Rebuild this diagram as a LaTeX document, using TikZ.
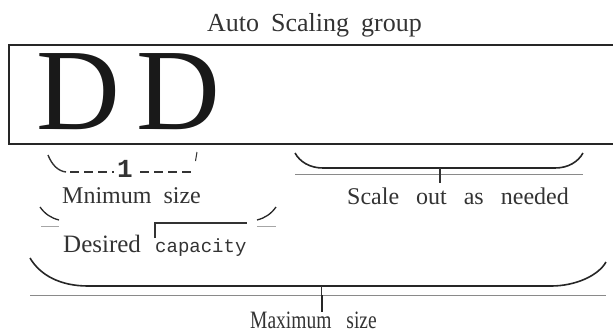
\documentclass[tikz,border=0pt]{standalone}
\usepackage{fontspec}
\newfontfamily\labelfont{Liberation Serif}
\newfontfamily\narrowfont[FakeStretch = 0.78]{Liberation Serif}
\newfontfamily\codefont{Liberation Mono}
\definecolor{ink}{HTML}{333333}
\definecolor{rulegray}{HTML}{8A8A8A}

\begin{document}
\begin{tikzpicture}[x = 1pt, y = -1pt,
        lbltext/.style = {inner sep = 0, anchor = base west, text = ink},
        brace/.style = {line width = 1.6pt, draw = black!85},
        thinrule/.style = {line width = 0.9pt, draw = rulegray},
        boxline/.style = {line width = 1.3pt, draw = black!85}]
        \useasboundingbox (0, 0) rectangle (613, 333);

        \node (title) [lbltext] at (207, 31.5) {\labelfont\fontsize{26}{30}\selectfont\spaceskip = 12pt Auto Scaling group};

        \draw [boxline] (613, 45) -- (9, 45) -- (9, 144) -- (613, 144);
        \node (dleft) [inner sep = 0, text = black!90] at (78, 91.5) {\labelfont\fontsize{116}{116}\selectfont D};
        \node (dright) [inner sep = 0, text = black!90] at (178, 91.5) {\labelfont\fontsize{116}{116}\selectfont D};

        \draw [line width = 1.4pt, draw = ink] (48, 155) .. controls (52, 165) and (58, 171) .. (66, 172);
        \draw [line width = 1.4pt, draw = ink, dash pattern = on 9pt off 5pt] (70, 172) -- (114, 172);
        \draw [line width = 1.4pt, draw = ink, dash pattern = on 9pt off 5pt] (140, 172) -- (192, 172);
        \draw [line width = 1pt, draw = ink] (197, 152) -- (195.5, 161);
        \node (one) [lbltext] at (117, 177) {\codefont\bfseries\fontsize{26}{28}\selectfont 1};
        \node (minsize) [lbltext] at (62, 203) {\labelfont\fontsize{24}{28}\selectfont\spaceskip = 12pt Mnimum size};

        \draw [brace] (295, 153) .. controls (300, 162) and (310, 168) .. (323, 168)
        -- (555, 168) .. controls (568, 168) and (578, 162) .. (583, 153);
        \draw [thinrule] (295, 174) -- (583, 174);
        \coordinate (outtop) at (440, 168);
        \coordinate (outfoot) at (440, 183);
        \draw [line width = 1.3pt, draw = ink] (outtop) -- (outfoot);
        \node (scaleout) [lbltext] at (347, 204) {\labelfont\fontsize{24}{28}\selectfont\spaceskip = 17pt Scale out as needed};

        \draw [brace, line width = 1.3pt] (40, 207) .. controls (45, 214) and (51, 218) .. (59, 220);
        \draw [brace, line width = 1.3pt] (257, 220) .. controls (265, 218) and (271, 214) .. (276, 207);
        \draw [thinrule, draw = black!35] (41, 226) -- (59, 226);
        \draw [thinrule, draw = black!35] (257, 226) -- (276, 226);

        \draw [line width = 1.2pt, draw = ink] (155, 238) -- (155, 223) -- (247, 223);
        \node (desired) [lbltext] at (63, 252) {\labelfont\fontsize{25}{28}\selectfont Desired};
        \node (capacity) [lbltext] at (155, 252) {\codefont\fontsize{19}{22}\selectfont capacity};

        \draw [brace] (30, 258) .. controls (40, 275) and (60, 286) .. (88, 286)
        -- (551, 286) .. controls (575, 286) and (598, 276) .. (606, 262);
        \draw [thinrule] (30, 295) -- (606, 295);
        \coordinate (maxtop) at (321, 286);
        \coordinate (maxmid) at (321, 295);
        \coordinate (maxfoot) at (322, 312);
        \draw [line width = 0.8pt, draw = ink] (maxtop) -- (maxmid);
        \draw [line width = 2.6pt, draw = black!85] (maxmid -| maxfoot) -- (maxfoot);
        \node (maxsize) [lbltext] at (250, 328.5) {\narrowfont\fontsize{25}{28}\selectfont Maximum\hspace{15pt}size};
    \end{tikzpicture}
\end{document}
